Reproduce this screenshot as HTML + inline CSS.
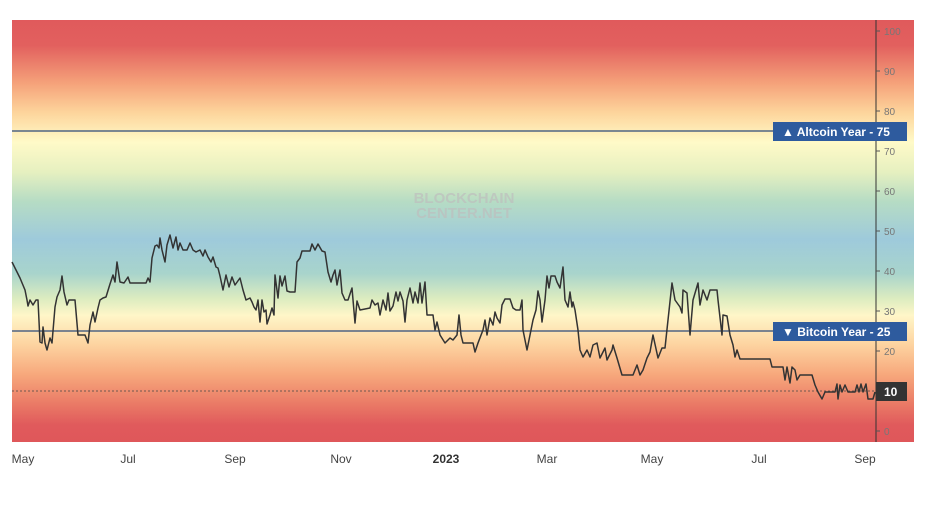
<!DOCTYPE html>
<html><head><meta charset="utf-8"><style>
body{margin:0;background:#fff;width:928px;height:509px;overflow:hidden;font-family:"Liberation Sans",sans-serif}
</style></head><body>
<svg width="928" height="509" xmlns="http://www.w3.org/2000/svg">
<defs>
<linearGradient id="g" x1="0" y1="20" x2="0" y2="442" gradientUnits="userSpaceOnUse">
<stop offset="0" stop-color="#e05a5c"/>
<stop offset="0.06" stop-color="#e2605e"/>
<stop offset="0.15" stop-color="#f5a27a"/>
<stop offset="0.22" stop-color="#fdd59c"/>
<stop offset="0.29" stop-color="#fffac8"/>
<stop offset="0.36" stop-color="#e6f0c0"/>
<stop offset="0.43" stop-color="#b6dcc4"/>
<stop offset="0.52" stop-color="#9ecadb"/>
<stop offset="0.60" stop-color="#a8d4cc"/>
<stop offset="0.66" stop-color="#dcecc0"/>
<stop offset="0.70" stop-color="#fff6c8"/>
<stop offset="0.77" stop-color="#fdd3a0"/>
<stop offset="0.84" stop-color="#f7a87c"/>
<stop offset="0.91" stop-color="#ea7a66"/>
<stop offset="0.96" stop-color="#e05a5c"/>
<stop offset="1" stop-color="#df575a"/>
</linearGradient>
</defs>
<rect x="12" y="20" width="902" height="422" fill="url(#g)"/>
<text x="464" y="203" font-size="15" font-weight="bold" fill="#bdbdbd" fill-opacity="0.7" text-anchor="middle">BLOCKCHAIN</text>
<text x="464" y="218" font-size="15" font-weight="bold" fill="#bdbdbd" fill-opacity="0.7" text-anchor="middle">CENTER.NET</text>
<line x1="876" y1="20" x2="876" y2="442" stroke="#333" stroke-width="1"/>
<g stroke="#555" stroke-width="1">
<line x1="876" y1="31" x2="880" y2="31"/><line x1="876" y1="71" x2="880" y2="71"/><line x1="876" y1="111" x2="880" y2="111"/><line x1="876" y1="151" x2="880" y2="151"/><line x1="876" y1="191" x2="880" y2="191"/><line x1="876" y1="231" x2="880" y2="231"/><line x1="876" y1="271" x2="880" y2="271"/><line x1="876" y1="311" x2="880" y2="311"/><line x1="876" y1="351" x2="880" y2="351"/><line x1="876" y1="431" x2="880" y2="431"/>
</g>
<g font-size="10" fill="#777">
<text x="884" y="35">100</text><text x="884" y="75">90</text><text x="884" y="115">80</text><text x="884" y="155">70</text><text x="884" y="195">60</text><text x="884" y="235">50</text><text x="884" y="275">40</text><text x="884" y="315">30</text><text x="884" y="355">20</text><text x="884" y="435">0</text>
</g>
<line x1="12" y1="131" x2="876" y2="131" stroke="#2d4a7a" stroke-width="1.3"/>
<line x1="12" y1="331" x2="876" y2="331" stroke="#2d4a7a" stroke-width="1.3"/>
<line x1="12" y1="391" x2="876" y2="391" stroke="#444" stroke-width="0.8" stroke-dasharray="2,2"/>
<polyline fill="none" stroke="#333" stroke-width="1.5" stroke-linejoin="round" points="
12,262 20,278 25,290 27,300 28,306 30,300 33,305 36,300 38,300 40,342 42,343 43,327 45,343 47,350 50,338 52,343 55,307 57,297 60,290 62,276 64,292 67,305 69,300 75,300 78,335 85,335 88,343 90,325 93,312 95,322 98,308 100,300 103,298 106,297 110,284 113,275 115,282 117,262 120,282 124,283 128,277 130,283 133,283 146,283 148,278 150,282 152,258 155,246 157,245 159,248 160,238 162,250 165,262 167,245 170,235 173,248 176,237 178,250 180,243 183,250 187,250 190,243 193,250 196,252 200,250 203,256 205,250 208,257 211,262 213,257 216,267 218,268 220,276 223,290 226,275 229,287 232,277 235,285 240,278 243,290 246,300 250,298 252,302 254,307 256,310 258,300 260,322 262,300 264,312 266,310 267,324 270,315 272,308 274,315 275,275 278,298 280,276 282,286 285,276 287,291 290,292 295,292 297,262 300,258 302,251 305,251 310,251 312,244 315,250 318,244 322,251 325,252 328,272 331,282 333,275 335,270 337,285 340,270 342,293 345,300 348,300 352,288 355,323 357,301 360,310 370,308 372,300 375,305 378,303 380,315 383,300 386,310 388,293 390,311 393,306 396,292 398,301 400,292 403,301 405,322 407,300 410,288 413,303 415,292 418,303 420,283 422,303 425,282 427,315 433,315 435,330 437,322 440,335 445,343 450,338 453,340 457,335 459,315 461,335 463,343 473,343 475,352 478,343 483,330 485,320 487,335 490,318 493,325 495,312 497,318 500,323 502,305 505,299 510,299 513,308 516,310 520,310 522,300 523,330 525,340 527,350 530,335 533,320 536,310 538,291 540,300 542,322 545,300 547,276 549,288 551,276 555,276 557,282 560,288 563,267 565,300 568,307 570,292 572,307 573,302 575,310 578,330 580,350 583,357 587,350 590,357 593,345 597,343 600,358 605,348 607,360 612,350 613,345 617,358 622,375 628,375 633,375 637,365 640,375 643,370 647,358 650,352 653,335 658,358 662,348 665,348 668,320 672,283 675,300 680,307 682,313 683,290 687,293 690,335 693,300 698,283 700,305 703,290 707,300 710,290 717,290 718,300 722,335 723,315 727,316 730,335 733,345 735,357 737,350 740,359 770,359 772,367 783,367 785,380 787,367 790,383 792,367 795,370 797,380 800,375 812,375 815,385 818,392 822,399 825,392 835,392 837,384 838,399 840,385 842,392 845,385 848,392 855,392 857,385 859,392 861,384 863,392 866,384 868,399 873,399 875,392"/>
<rect x="773" y="122" width="134" height="19" fill="#2e5b9e"/>
<text x="782" y="136" font-size="12" font-weight="bold" fill="#fff">▲ Altcoin Year - 75</text>
<rect x="773" y="322" width="134" height="19" fill="#2e5b9e"/>
<text x="782" y="336" font-size="12" font-weight="bold" fill="#fff">▼ Bitcoin Year - 25</text>
<rect x="876" y="382" width="31" height="19" fill="#333"/>
<text x="884" y="396" font-size="12" font-weight="bold" fill="#fff">10</text>
<g font-size="12" fill="#444" text-anchor="middle">
<text x="23" y="463">May</text><text x="128" y="463">Jul</text><text x="235" y="463">Sep</text><text x="341" y="463">Nov</text><text x="446" y="463" font-weight="bold" fill="#333">2023</text><text x="547" y="463">Mar</text><text x="652" y="463">May</text><text x="759" y="463">Jul</text><text x="865" y="463">Sep</text>
</g>
</svg>
</body></html>
